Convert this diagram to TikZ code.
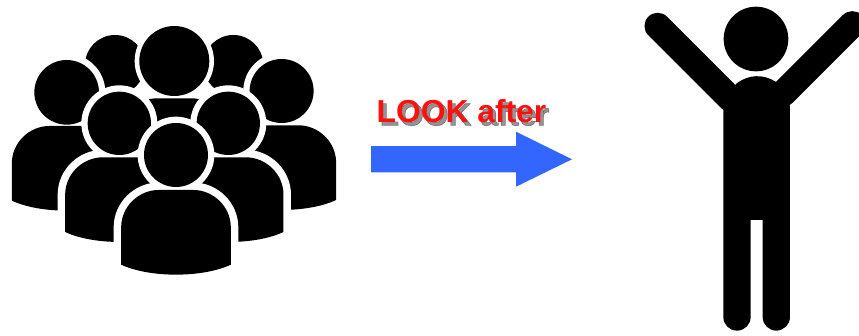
\documentclass[tikz,border=0pt]{standalone}
\usepackage{fontspec}
\setmainfont{Liberation Sans}
\newfontfamily\shadowfont[FakeBold=1.5]{Liberation Sans Bold}
\newfontfamily\labelfont{Liberation Sans Bold}
\definecolor{arrowblue}{HTML}{3366FF}
\definecolor{labelred}{HTML}{FF1010}
\tikzset{
  ink/.style={fill=black,draw=none},
  halo/.style={fill=white,draw=white,line width=15pt},
  limb/.style={draw=black,line width=26.4pt,line cap=round},
  labeltext/.style={inner sep=0pt,anchor=base west,font=\fontsize{31.8}{32}\selectfont}
}
\newcommand{\bodypath}[2]{(#1-164.5,#2+224)
  -- (#1-164.5,#2+112) .. controls (#1-164.5,#2+50) and (#1-112,#2) .. (#1-52,#2)
  -- (#1+52,#2) .. controls (#1+112,#2) and (#1+164.5,#2+50) .. (#1+164.5,#2+112)
  -- (#1+164.5,#2+224) .. controls (#1+80,#2+264) and (#1-80,#2+264) .. cycle}
\newcommand{\person}[5]{%
  \path[halo] \bodypath{#1}{#2};
  \fill[white] (#3,#4) circle ({#5+19});
  \fill[black] (#3,#4) circle (#5);
  \path[ink] \bodypath{#1}{#2};
}
\begin{document}
\begin{tikzpicture}[x=1pt,y=-1pt]
\clip (0,0) rectangle (859,335);
\fill[white] (0,0) rectangle (859,335);
% crowd
\begin{scope}[x=0.3333pt,y=-0.3333pt,shift={(0pt,-10pt)}]
  \fill[black] (345,165) circle (90);
  \fill[black] (700,165) circle (90);
  \person{200}{348}{200}{247}{97}
  \person{844}{346}{845}{243}{96}
  \fill[white] (523,153) circle (119);
  \fill[black] (523,153) circle (105);
  \path[ink] \bodypath{523}{265};
  \person{360}{442}{358}{340}{95}
  \person{686}{442}{685}{340}{95}
  \person{528}{540}{528}{435}{96}
\end{scope}
% label
\node[labeltext,text=black,opacity=0.42] (shadow) at (379.5,125.5) {\shadowfont LOOK after};
\node[labeltext,text=labelred] (label) at (376.5,122.5) {\labelfont LOOK after};
% arrow
\fill[arrowblue] (371,146) -- (516,146) -- (516,131.7) -- (572,159.3) -- (516,186.7) -- (516,172.3) -- (371,172.3) -- cycle;
% standing figure
\begin{scope}[x=0.3333pt,y=-0.3333pt,shift={(630pt,0pt)}]
  \fill[black] (378,117) circle (97);
  \draw[limb] (83,78) -- (300,295);
  \draw[limb] (667,73) -- (460,280);
  \fill[black] (280,328) -- (318,252) .. controls (355,222) and (400,222) .. (437,245) -- (480,318)
     -- (480,951) arc[start angle=0,end angle=180,radius=41] -- (398,660) -- (362,660)
     -- (362,951) arc[start angle=0,end angle=180,radius=41] -- cycle;
\end{scope}
\end{tikzpicture}
\end{document}
